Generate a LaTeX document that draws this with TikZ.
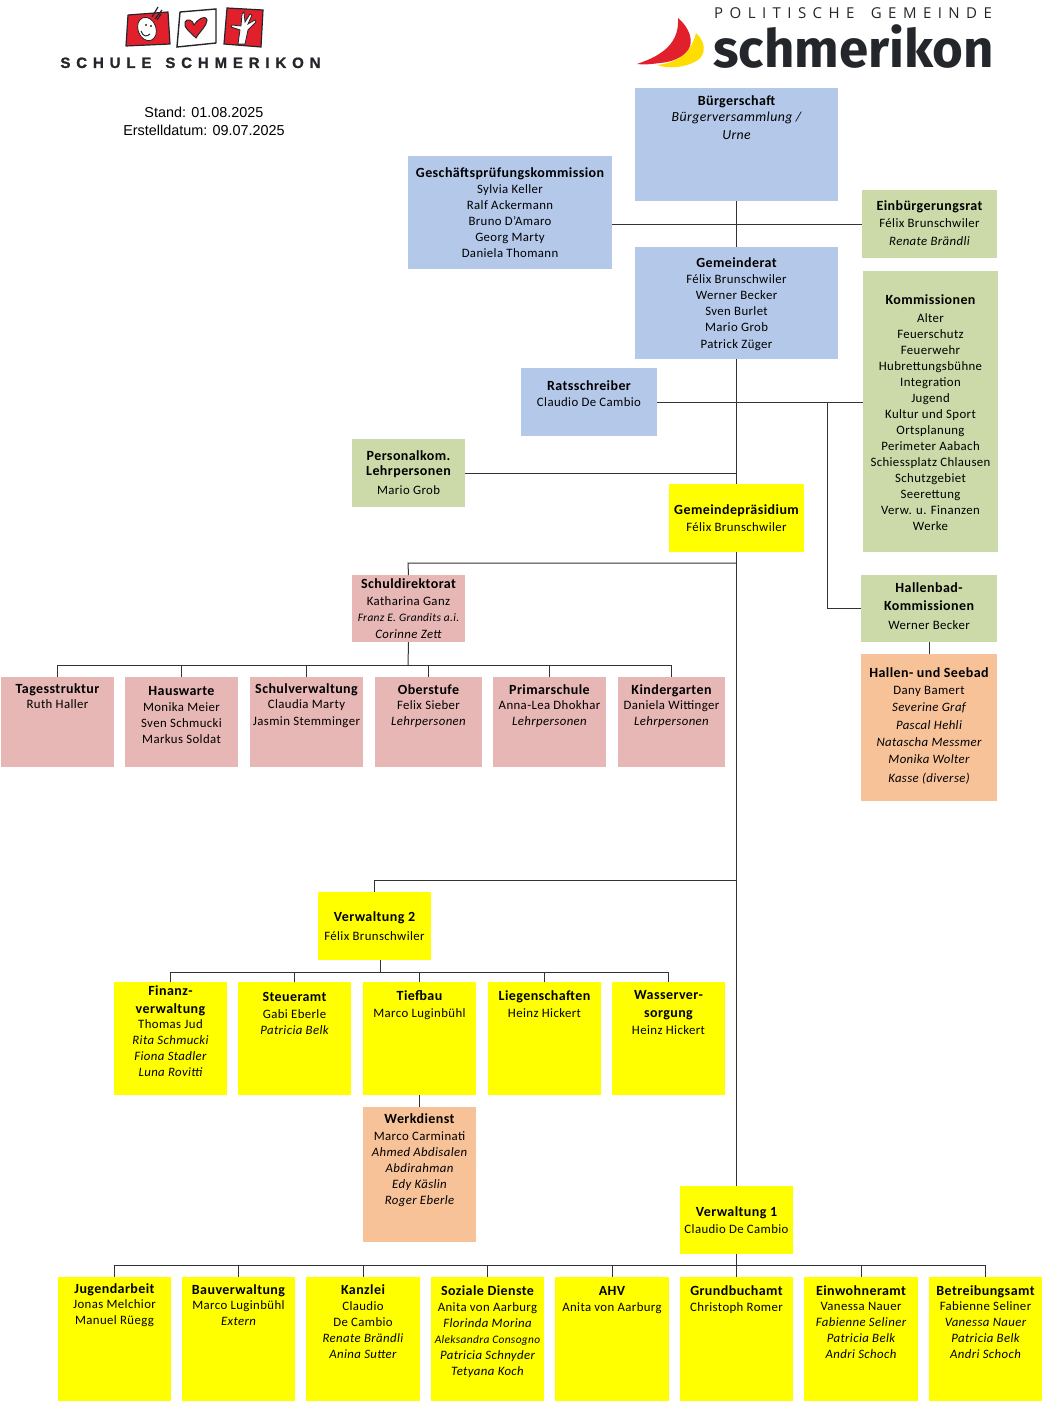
\documentclass[tikz,border=0pt]{standalone}
\usepackage{fontspec}
\usetikzlibrary{calc}
\setmainfont{Carlito}[LetterSpace=3]
\newfontfamily\arialf{Liberation Sans}
\newfontfamily\boldlogo{Liberation Sans}[LetterSpace=39,FakeBold=1.2]
\newfontfamily\schmf{Fira Sans}
\newfontfamily\polf{Open Sans}[LetterSpace=43]
\definecolor{cblue}{HTML}{B4C9EA}
\definecolor{cgreen}{HTML}{CBDAA8}
\definecolor{cpink}{HTML}{E6B7B5}
\definecolor{corange}{HTML}{F8C299}
\definecolor{cyellow}{HTML}{FFFF00}
\definecolor{clogored}{HTML}{E2202C}
\definecolor{clogoyel}{HTML}{FFDD00}
\definecolor{cdark}{HTML}{23262B}
\newcommand{\ttl}[1]{{\fontsize{14}{16}\selectfont\bfseries #1}}
\newcommand{\ital}[1]{{\itshape #1}}
\tikzset{
 x=1pt,y=-1pt,
 boxn/.style={draw=none,rectangle,inner sep=0pt,outer sep=0pt},
 txt/.style={inner sep=0pt,outer sep=0pt,align=center,anchor=north,text=black,font=\fontsize{12.8}{16}\selectfont},
 conn/.style={draw=black!80,line width=1pt},
}
% name, x0, y0, x1, y1, colour, first line centre y, text
\newcommand{\bx}[8]{%
 \path let \n1={(#2+#4)/2}, \n2={(#3+#5)/2} in
   node[boxn,fill=#6,minimum width={(#4-#2)*1pt},minimum height={(#5-#3)*1pt}] (#1) at (\n1,\n2) {};
 \path let \n1={(#2+#4)/2} in node[txt] (#1-t) at (\n1,#7-5.4) {\strut #8};
}
\begin{document}
\begin{tikzpicture}
\useasboundingbox (0,0) rectangle (1045,1402);
\fill[white] (0,0) rectangle (1045,1402);

\coordinate (jmain) at (736.5,224);
\coordinate (jrs) at (736.5,402);
\coordinate (jpk) at (736.5,473);
\coordinate (jschule) at (736.5,563);
\coordinate (jsd) at (408,563);
\coordinate (jhall) at (827,402);
\coordinate (jv2) at (736.5,880);
\coordinate (jv2b) at (374.5,880);
\coordinate (bus1) at (408,665);
\coordinate (bus2) at (380,972);
\coordinate (bus3) at (736.5,1265);

\bx{bg}{635}{88}{838}{201}{cblue}{100}{\ttl{Bürgerschaft}\\[0pt] \ital{\fontsize{13.8}{16}\selectfont Bürgerversammlung /}\\[2pt] \ital{\fontsize{13.8}{16}\selectfont Urne}}
\bx{gpk}{408}{156}{612}{269}{cblue}{172}{\ttl{Geschäftsprüfungskommission}\\ Sylvia Keller\\ Ralf Ackermann\\ Bruno D’Amaro\\ Georg Marty\\ Daniela Thomann}
\bx{ein}{862}{190}{997}{258}{cgreen}{205}{\ttl{Einbürgerungsrat}\\[1pt] Félix Brunschwiler\\[2pt] \ital{Renate Brändli}}
\bx{gr}{635}{247}{838}{359}{cblue}{262}{\ttl{Gemeinderat}\\ Félix Brunschwiler\\ Werner Becker\\ Sven Burlet\\ Mario Grob\\[1pt] Patrick Züger}
\bx{kom}{863}{271}{998}{552}{cgreen}{299}{\ttl{Kommissionen}\\[2pt] Alter\\ Feuerschutz\\ Feuerwehr\\ Hubrettungsbühne\\ Integration\\ Jugend\\ Kultur und Sport\\ Ortsplanung\\ Perimeter Aabach\\ Schiessplatz Chlausen\\ Schutzgebiet\\ Seerettung\\ Verw. u. Finanzen\\ Werke}
\bx{rs}{521}{368}{657}{436}{cblue}{385}{\ttl{Ratsschreiber}\\ Claudio De Cambio}
\bx{pk}{352}{439}{465}{507}{cgreen}{455}{\ttl{Personalkom.}\\[-1pt] \ttl{Lehrpersonen}\\[3pt] Mario Grob}
\bx{gp}{669}{484}{804}{552}{cyellow}{509}{\ttl{Gemeindepräsidium}\\[1pt] Félix Brunschwiler}
\bx{sd}{352}{575}{465}{642}{cpink}{583}{\ttl{Schuldirektorat}\\[1pt] Katharina Ganz\\ \ital{\fontsize{11.4}{16}\selectfont Franz E. Grandits a.i.}\\[1pt] \ital{Corinne Zett}}
\bx{hk}{861}{575}{997}{642}{cgreen}{587}{\ttl{Hallenbad-}\\[2pt] \ttl{Kommissionen}\\[3pt] Werner Becker}
\bx{hs}{861}{654}{997}{801}{corange}{672}{\ttl{Hallen- und Seebad}\\[1pt] Dany Bamert\\[1pt] \ital{Severine Graf}\\[2pt] \ital{Pascal Hehli}\\[1pt] \ital{Natascha Messmer}\\[1pt] \ital{Monika Wolter}\\[3pt] \ital{Kasse (diverse)}}

\bx{ts}{1}{677}{114}{767}{cpink}{688}{\ttl{Tagesstruktur}\\[-1pt] Ruth Haller}
\bx{hw}{125}{677}{238}{767}{cpink}{690}{\ttl{Hauswarte}\\ Monika Meier\\ Sven Schmucki\\ Markus Soldat}
\bx{sv}{250}{677}{363}{767}{cpink}{688}{\ttl{Schulverwaltung}\\[-1pt] Claudia Marty\\[1pt] Jasmin Stemminger}
\bx{os}{375}{677}{482}{767}{cpink}{689}{\ttl{Oberstufe}\\[-1pt] Felix Sieber\\ \ital{Lehrpersonen}}
\bx{ps}{493}{677}{606}{767}{cpink}{689}{\ttl{Primarschule}\\[-1pt] Anna-Lea Dhokhar\\ \ital{Lehrpersonen}}
\bx{kg}{618}{677}{725}{767}{cpink}{689}{\ttl{Kindergarten}\\[-1pt] Daniela Wittinger\\ \ital{Lehrpersonen}}

\bx{v2}{318}{892}{431}{960}{cyellow}{916}{\ttl{Verwaltung 2}\\[3pt] Félix Brunschwiler}
\bx{fv}{114}{982}{227}{1095}{cyellow}{990}{\ttl{Finanz-}\\[2pt] \ttl{verwaltung}\\[-1pt] Thomas Jud\\ \ital{Rita Schmucki}\\ \ital{Fiona Stadler}\\ \ital{Luna Rovitti}}
\bx{st}{238}{982}{351}{1095}{cyellow}{996}{\ttl{Steueramt}\\[1pt] Gabi Eberle\\ \ital{Patricia Belk}}
\bx{tb}{363}{982}{476}{1095}{cyellow}{995}{\ttl{Tiefbau}\\[1pt] Marco Luginbühl}
\bx{ls}{488}{982}{601}{1095}{cyellow}{995}{\ttl{Liegenschaften}\\[1pt] Heinz Hickert}
\bx{ws}{612}{982}{725}{1095}{cyellow}{994}{\ttl{Wasserver-}\\[2pt] \ttl{sorgung}\\[1pt] Heinz Hickert}
\bx{wd}{363}{1107}{476}{1242}{corange}{1118}{\ttl{Werkdienst}\\[1pt] Marco Carminati\\ \ital{Ahmed Abdisalen}\\ \ital{Abdirahman}\\ \ital{Edy Käslin}\\ \ital{Roger Eberle}}

\bx{v1}{680}{1186}{793}{1254}{cyellow}{1211}{\ttl{Verwaltung 1}\\[1pt] Claudio De Cambio}
\bx{ja}{58}{1277}{171}{1401}{cyellow}{1288}{\ttl{Jugendarbeit}\\[-1pt] Jonas Melchior\\ Manuel Rüegg}
\bx{bv}{182}{1277}{295}{1401}{cyellow}{1289}{\ttl{Bauverwaltung}\\[-1pt] Marco Luginbühl\\ \ital{Extern}}
\bx{kz}{306}{1277}{420}{1401}{cyellow}{1289}{\ttl{Kanzlei}\\ Claudio\\ De Cambio\\ \ital{Renate Brändli}\\ \ital{Anina Sutter}}
\bx{sz}{431}{1277}{544}{1401}{cyellow}{1290}{\ttl{Soziale Dienste}\\ Anita von Aarburg\\ \ital{Florinda Morina}\\ \ital{\fontsize{11.4}{16}\selectfont Aleksandra Consogno}\\ \ital{Patricia Schnyder}\\ \ital{Tetyana Koch}}
\bx{ahv}{555}{1277}{669}{1401}{cyellow}{1290}{\ttl{AHV}\\ Anita von Aarburg}
\bx{gb}{680}{1277}{793}{1401}{cyellow}{1290}{\ttl{Grundbuchamt}\\ Christoph Romer}
\bx{ew}{804}{1277}{918}{1401}{cyellow}{1290}{\ttl{Einwohneramt}\\[-1pt] Vanessa Nauer\\ \ital{Fabienne Seliner}\\ \ital{Patricia Belk}\\ \ital{Andri Schoch}}
\bx{bt}{929}{1277}{1042}{1401}{cyellow}{1290}{\ttl{Betreibungsamt}\\[-1pt] Fabienne Seliner\\ \ital{Vanessa Nauer}\\ \ital{Patricia Belk}\\ \ital{Andri Schoch}}

% connectors
\draw[conn] (bg) -- (gr);
\draw[conn] (gpk.east |- jmain) -- (ein.west |- jmain);
\draw[conn] (gr) -- (gp);
\draw[conn] (rs.east |- jrs) -- (kom.west |- jrs);
\draw[conn] (pk.east |- jpk) -- (jpk);
\draw[conn] (jhall) |- (hk.west);
\draw[conn] (hk) -- (hs);
\draw[conn] (gp) -- (v1);
\draw[conn] (jschule) -- (jsd) -- (sd.north);
\draw[conn] (jv2) -- (jv2b) -- (v2.north);
\draw[conn] (sd.south) -- (bus1);
\draw[conn] (ts.north) |- (kg.north |- bus1) -- (kg.north);
\foreach \n in {hw,sv,os,ps} \draw[conn] (\n.north) -- (\n.north |- bus1);
\draw[conn] (v2.south -| bus2) -- (bus2);
\draw[conn] (fv.north) |- (ws.north |- bus2) -- (ws.north);
\foreach \n in {st,tb,ls} \draw[conn] (\n.north) -- (\n.north |- bus2);
\draw[conn] (tb) -- (wd);
\draw[conn] (v1.south) -- (bus3);
\draw[conn] (ja.north) |- (bt.north |- bus3) -- (bt.north);
\foreach \n in {bv,kz,sz,ahv,gb,ew} \draw[conn] (\n.north) -- (\n.north |- bus3);

\node[inner sep=0pt,align=center,font=\arialf\fontsize{14.4}{18}\selectfont] (stand) at (204,121) {Stand: 01.08.2025\\ Erstelldatum: 09.07.2025};

% school logo
\fill[clogored,draw=cdark,line width=1.2pt,line join=round] (128,15) -- (168,12) -- (170,44) -- (126,46) -- cycle;
\draw[cdark,line width=1.4pt,line cap=round] (180,12) -- (216,9) -- (216,43) (216,43) -- (177,47) -- (180,12);
\fill[clogored,draw=cdark,line width=1.2pt] (227,8) -- (263,10) -- (261,47) -- (224,44) -- cycle;
\fill[white,draw=cdark,line width=.8pt,rotate around={20:(147,29)}] (147,29) ellipse (9 and 12);
\draw[cdark,line width=1.2pt] (152,17) -- (158,7) (155,19) -- (162,10) (157,20) -- (161,14);
\fill[cdark] (146,25) circle (1.2) (151,26) circle (1.2);
\draw[cdark,line width=1pt] (141,31) .. controls (143,37) and (147,37) .. (150,34);
\fill[clogored,draw=cdark,line width=1pt] (196,38) .. controls (190,32) and (183,27) .. (185,22) .. controls (187,18) and (193,20) .. (194,25) .. controls (197,20) and (205,14) .. (207,20) .. controls (207,26) and (200,31) .. (196,38) -- cycle;
\fill[white,draw=cdark,line width=.8pt] (238,44) -- (240,30) -- (231,27) -- (232,25) -- (241,26) -- (242,14) -- (244,12) -- (245,22) -- (250,14) -- (252,15) -- (248,24) -- (255,20) -- (256,22) -- (248,30) -- (245,44) -- cycle;
\node[inner sep=0pt,anchor=base,font=\boldlogo\bfseries\fontsize{15}{15}\selectfont,text=cdark] (schule) at (190.5,68) {SCHULE\hspace{4pt} SCHMERIKON};

% commune logo
\fill[clogoyel] (696,33) .. controls (706,42) and (706,54) .. (698,60) .. controls (686,68) and (668,69) .. (657,65) .. controls (672,63) and (690,58) .. (696,33) -- cycle;
\fill[clogored] (678,18) .. controls (690,28) and (694,42) .. (688,50) .. controls (682,58) and (672,62) .. (660,63) .. controls (652,64) and (644,65) .. (637,64) .. controls (654,58) and (680,48) .. (678,18) -- cycle;
\node[inner sep=0pt,anchor=base west,font=\schmf\bfseries\fontsize{52.8}{52}\selectfont,text=cdark] (schm) at (713,68) {schmerikon};
\node[inner sep=0pt,anchor=base west,font=\polf\fontsize{15}{15}\selectfont,text=cdark] (pol) at (714,18.6) {POLITISCHE\hspace{6pt} GEMEINDE};
\end{tikzpicture}
\end{document}
